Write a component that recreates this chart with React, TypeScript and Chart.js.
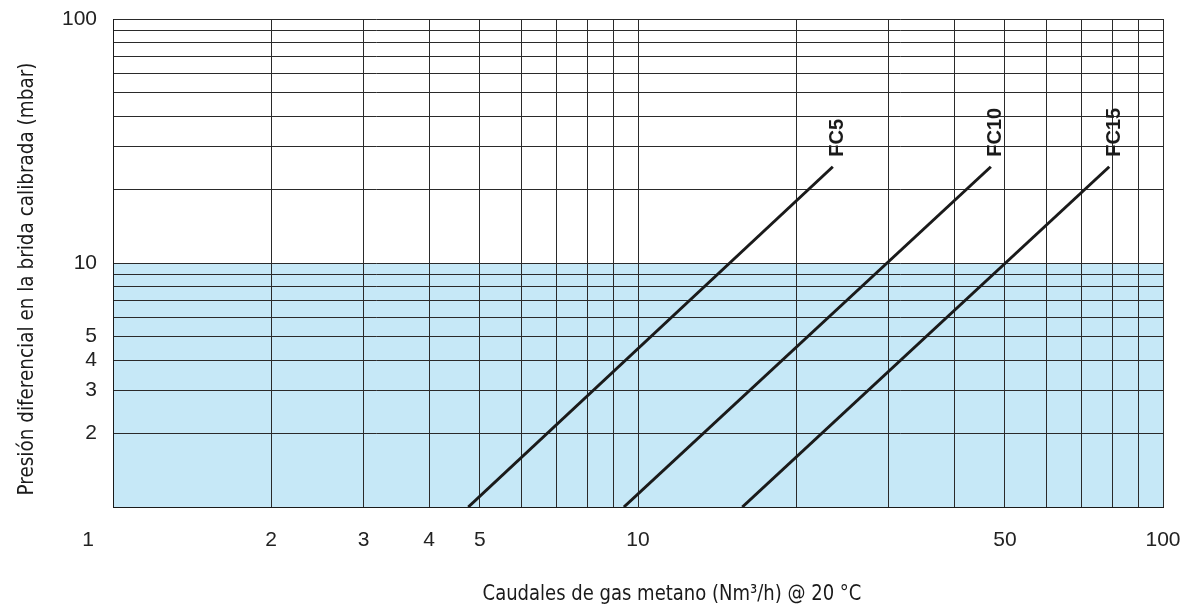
import React, { useEffect, useRef } from "react";
import { Chart, registerables } from "chart.js";

Chart.register(...registerables);

// Data
const gridValues = [1, 2, 3, 4, 5, 6, 7, 8, 9, 10, 20, 30, 40, 50, 60, 70, 80, 90, 100];
const xTickLabels = [1, 2, 3, 4, 5, 10, 50, 100];
const yTickLabels = [100, 10, 5, 4, 3, 2];
const shadeX = [1, 100];
const shadeY = [10, 10];
const seriesNames = ["FC5", "FC10", "FC15"];
const fc5X = [4.75, 23.5];
const fc5Y = [1, 24.8];
const fc10X = [9.4, 47];
const fc10Y = [1, 24.8];
const fc15X = [15.8, 79];
const fc15Y = [1, 24.8];
const xTitle = "Caudales de gas metano (Nm³/h) @ 20 °C";
const yTitle = "Presión diferencial en la brida calibrada (mbar)";

const toPts = (xs: number[], ys: number[]) => xs.map((x, i) => ({ x, y: ys[i] }));

const TICK_FONT = '21px "Liberation Sans", Arial, sans-serif';
const TITLE_FONT = '22px "Liberation Sans Narrow", "DejaVu Sans Condensed", "DejaVu Sans", sans-serif';
const LABEL_FONT = 'bold 20px "Liberation Sans", Arial, sans-serif';

const textPlugin = {
  id: "textPlugin",
  afterDraw(chart: any) {
    const ctx = chart.ctx;
    const xs = chart.scales.x;
    const ys = chart.scales.y;
    const area = chart.chartArea;
    ctx.save();
    ctx.fillStyle = "#222";
    ctx.font = TICK_FONT;
    // y tick labels
    ctx.textAlign = "right";
    ctx.textBaseline = "middle";
    yTickLabels.forEach((v) => {
      ctx.fillText(String(v), area.left - 16, ys.getPixelForValue(v));
    });
    // x tick labels
    ctx.textAlign = "center";
    xTickLabels.forEach((v) => {
      const off = v === 1 ? -25 : 0;
      ctx.fillText(String(v), xs.getPixelForValue(v) + off, area.bottom + 33);
    });
    // axis titles (horizontally condensed)
    ctx.font = TITLE_FONT;
    ctx.fillStyle = "#1a1a1a";
    ctx.textBaseline = "alphabetic";
    ctx.save();
    ctx.translate((area.left + area.right) / 2 + 34, area.bottom + 93);
    ctx.scale(0.91, 1);
    ctx.fillText(xTitle, 0, 0);
    ctx.restore();
    ctx.save();
    ctx.translate(33, (area.top + area.bottom) / 2 + 16);
    ctx.rotate(-Math.PI / 2);
    ctx.scale(0.93, 1);
    ctx.fillText(yTitle, 0, 0);
    ctx.restore();
    // series labels
    ctx.font = LABEL_FONT;
    ctx.fillStyle = "#1a1a1a";
    ctx.textAlign = "left";
    ctx.textBaseline = "middle";
    const ends = [
      [fc5X[1], fc5Y[1]],
      [fc10X[1], fc10Y[1]],
      [fc15X[1], fc15Y[1]],
    ];
    ends.forEach((e, i) => {
      const px = xs.getPixelForValue(e[0]) + 5;
      const py = ys.getPixelForValue(e[1]) - 10;
      ctx.save();
      ctx.translate(px, py);
      ctx.rotate(-Math.PI / 2);
      ctx.fillText(seriesNames[i], 0, 0);
      ctx.restore();
    });
    ctx.restore();
  },
};

const axisCommon = (): any => ({
  type: "logarithmic",
  min: 1,
  max: 100,
  afterBuildTicks: (scale: any) => {
    scale.ticks = gridValues.map((v) => ({ value: v }));
  },
  ticks: { display: false },
  grid: { color: "#2a2a2a", lineWidth: 1, drawTicks: false },
  border: { display: true, color: "#1a1a1a", width: 1 },
});

export default function App() {
  const ref = useRef<HTMLCanvasElement | null>(null);
  useEffect(() => {
    document.body.style.margin = "0";
    if (!ref.current) return;
    const lineDs = (label: string, xs: number[], ys: number[]) => ({
      label,
      data: toPts(xs, ys),
      borderColor: "#1a1a1a",
      borderWidth: 3,
      pointRadius: 0,
      fill: false,
    });
    const chart = new Chart(ref.current, {
      type: "line",
      data: {
        datasets: [
          {
            label: "zona",
            data: toPts(shadeX, shadeY),
            borderWidth: 0,
            borderColor: "rgba(0,0,0,0)",
            backgroundColor: "#c6e8f7",
            pointRadius: 0,
            fill: "start",
          },
          lineDs(seriesNames[0], fc5X, fc5Y),
          lineDs(seriesNames[1], fc10X, fc10Y),
          lineDs(seriesNames[2], fc15X, fc15Y),
        ],
      },
      options: {
        animation: false,
        responsive: false,
        parsing: false as any,
        layout: { padding: { left: 113, right: 28, top: 19, bottom: 108 } },
        scales: { x: axisCommon(), y: axisCommon() },
        plugins: {
          legend: { display: false },
          tooltip: { enabled: false },
          filler: { drawTime: "beforeDraw" } as any,
        },
      },
      plugins: [textPlugin],
    });
    return () => chart.destroy();
  }, []);
  return (
    <div style={{ width: 1191, height: 615, background: "#fff" }}>
      <canvas ref={ref} width={1191} height={615} />
    </div>
  );
}
